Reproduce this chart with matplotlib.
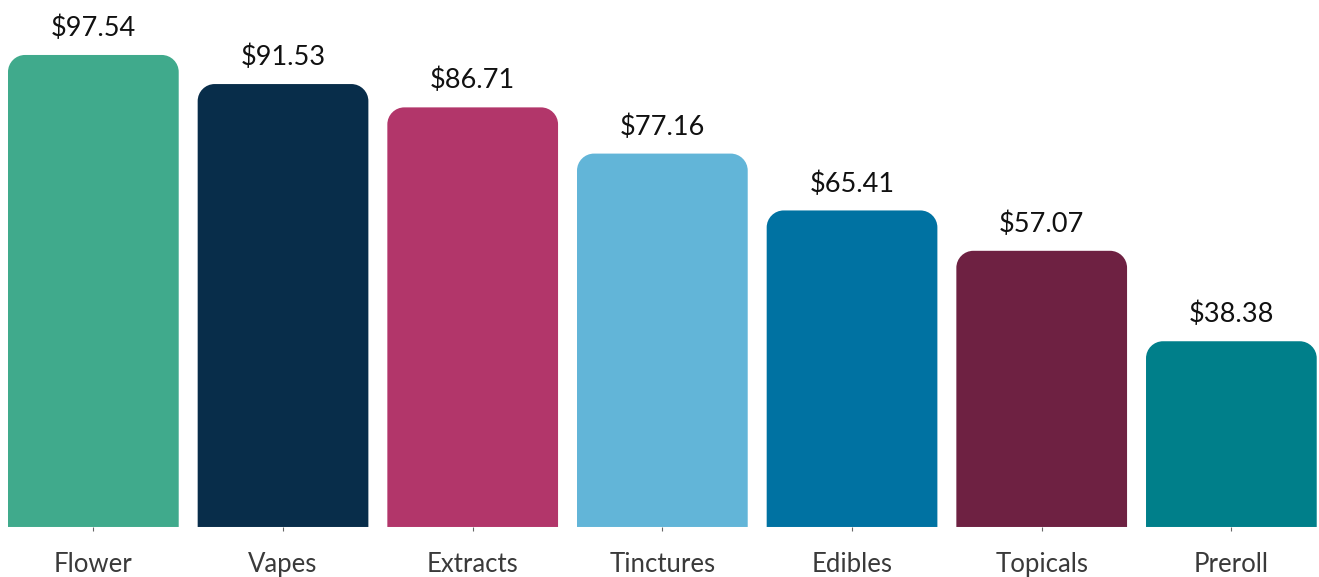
import matplotlib
matplotlib.use("Agg")
import matplotlib.pyplot as plt
from matplotlib.path import Path
from matplotlib.patches import PathPatch

categories = ["Flower", "Vapes", "Extracts", "Tinctures", "Edibles", "Topicals", "Preroll"]
values = [97.54, 91.53, 86.71, 77.16, 65.41, 57.07, 38.38]
colors = ["#40AA8C", "#082D4A", "#B2366A", "#62B5D8", "#0072A2", "#6E2142", "#007F8A"]

plt.rcParams['font.family'] = ['Lato', 'DejaVu Sans']

fig = plt.figure(figsize=(13.19, 5.77), dpi=100)
ax = fig.add_axes([0, 0.0867, 1, 0.9133])
ax.set_xlim(-0.4922, 6.462)
ax.set_ylim(0, 108.9)

bars = ax.bar(range(len(values)), values, width=0.9, color=colors)

# rounded top corners (radius in px converted to data units)
rx = 17 / 189.67
ry = 17 / 4.839
k = 0.5523
for b, c in zip(bars, colors):
    x0, y0 = b.get_x(), b.get_y()
    x1, y1 = x0 + b.get_width(), y0 + b.get_height()
    verts = [(x0, y0), (x0, y1 - ry),
             (x0, y1 - ry + k * ry), (x0 + rx - k * rx, y1), (x0 + rx, y1),
             (x1 - rx, y1),
             (x1 - rx + k * rx, y1), (x1, y1 - ry + k * ry), (x1, y1 - ry),
             (x1, y0), (x0, y0)]
    codes = [Path.MOVETO, Path.LINETO,
             Path.CURVE4, Path.CURVE4, Path.CURVE4,
             Path.LINETO,
             Path.CURVE4, Path.CURVE4, Path.CURVE4,
             Path.LINETO, Path.CLOSEPOLY]
    b.set_visible(False)
    ax.add_patch(PathPatch(Path(verts, codes), facecolor=c, edgecolor="none"))
    ax.annotate(f"${b.get_height():.2f}", (b.get_x() + b.get_width() / 2, y1),
                xytext=(0, 10), textcoords="offset points",
                ha="center", va="bottom", fontsize=19.5, color="#111111")

ax.set_xticks(range(len(categories)))
ax.set_xticklabels(categories, fontsize=18.5, color="#3a3a3a")
ax.tick_params(axis="x", length=3, width=0.8, color="#666666", pad=15)
ax.set_yticks([])
for s in ax.spines.values():
    s.set_visible(False)

fig.savefig("out.png", dpi=100)
